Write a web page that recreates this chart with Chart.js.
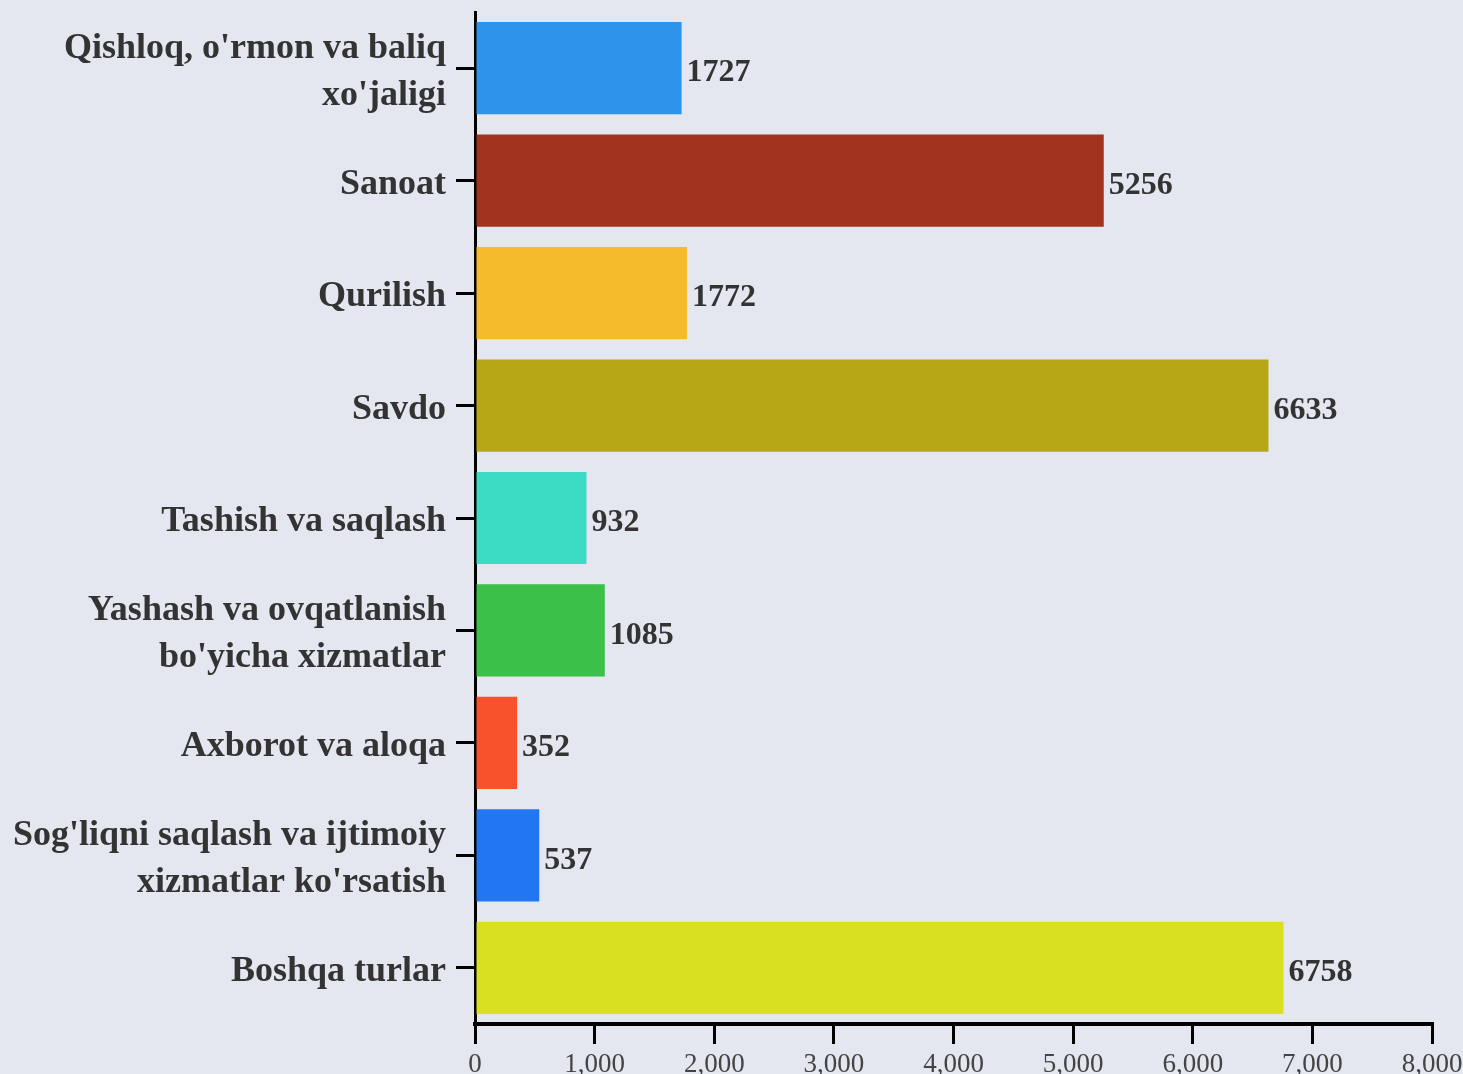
<!DOCTYPE html>
<html lang="uz">

<head>
    <meta charset="UTF-8">
    <title>Tarmoqlar</title>
    <style>
        body {
            margin: 0;
            padding: 0;
            background: #e4e6f0;
        }

        #wrap {
            width: 1463px;
            height: 1074px;
        }
    </style>
</head>

<body>
    <div id="wrap">
        <canvas id="barChart" width="1463" height="1074"></canvas>
    </div>

    <script src="https://cdn.jsdelivr.net/npm/chart.js"></script>
    <script>
        // categories (multi-line labels as arrays)
        const categories = [
            ["Qishloq, o'rmon va baliq", "xo'jaligi"],
            "Sanoat",
            "Qurilish",
            "Savdo",
            "Tashish va saqlash",
            ["Yashash va ovqatlanish", "bo'yicha xizmatlar"],
            "Axborot va aloqa",
            ["Sog'liqni saqlash va ijtimoiy", "xizmatlar ko'rsatish"],
            "Boshqa turlar"
        ];
        const values = [1727, 5256, 1772, 6633, 932, 1085, 352, 537, 6758];
        const barColors = ['#2e93ea', '#a1331f', '#f6ba2d', '#b7a717', '#3cdcc4', '#3bc14a', '#f8522c', '#2276f2', '#d8e020'];
        const xTicks = [0, 1000, 2000, 3000, 4000, 5000, 6000, 7000, 8000];

        const serif = "'Liberation Serif', 'Times New Roman', serif";

        // value labels at the end of each bar
        const valueLabels = {
            id: 'valueLabels',
            afterDatasetsDraw(chart) {
                const ctx = chart.ctx;
                const meta = chart.getDatasetMeta(0);
                ctx.save();
                ctx.font = 'bold 32px ' + serif;
                ctx.fillStyle = '#333';
                ctx.textAlign = 'left';
                ctx.textBaseline = 'middle';
                meta.data.forEach((bar, i) => {
                    ctx.fillText(String(values[i]), bar.x + 5, bar.y + 5);
                });
                ctx.restore();
            }
        };

        const ctx = document.getElementById('barChart').getContext('2d');
        const chart = new Chart(ctx, {
            type: 'bar',
            data: {
                labels: categories,
                datasets: [{
                    data: values,
                    backgroundColor: barColors,
                    barPercentage: 0.82,
                    categoryPercentage: 1
                }]
            },
            options: {
                indexAxis: 'y',
                responsive: false,
                animation: false,
                layout: {
                    autoPadding: false,
                    padding: { top: 12, right: 31, left: 0, bottom: 0 }
                },
                plugins: {
                    legend: { display: false },
                    tooltip: { enabled: false }
                },
                scales: {
                    x: {
                        min: 0,
                        max: 8000,
                        afterBuildTicks(scale) {
                            scale.ticks = xTicks.map(v => ({ value: v }));
                        },
                        afterFit(scale) {
                            scale.height = 50;
                            scale.paddingLeft = 0;
                            scale.paddingRight = 0;
                        },
                        grid: {
                            drawOnChartArea: false,
                            drawTicks: true,
                            tickLength: 20,
                            color: '#000',
                            lineWidth: 3
                        },
                        border: { display: true, color: '#000', width: 4 },
                        ticks: {
                            color: '#444',
                            padding: 5,
                            maxRotation: 0,
                            font: { family: serif, size: 27 },
                            callback: v => v.toLocaleString('en-US')
                        }
                    },
                    y: {
                        afterFit(scale) {
                            scale.width = 475;
                            scale.paddingTop = 0;
                            scale.paddingBottom = 0;
                        },
                        grid: {
                            offset: false,
                            drawOnChartArea: false,
                            drawTicks: true,
                            tickLength: 19,
                            color: '#000',
                            lineWidth: 3
                        },
                        border: { display: true, color: '#000', width: 3 },
                        ticks: {
                            color: '#333',
                            padding: 10,
                            labelOffset: 4,
                            font: { family: serif, size: 36, weight: 'bold', lineHeight: 1.3 }
                        }
                    }
                }
            },
            plugins: [valueLabels]
        });
    </script>
</body>

</html>
